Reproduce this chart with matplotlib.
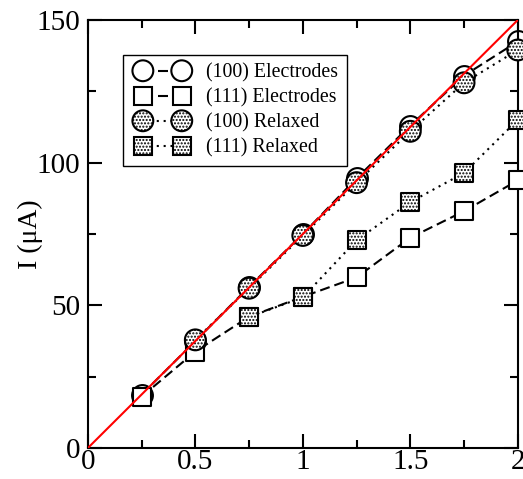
import numpy as np
import matplotlib
matplotlib.use('Agg')
import matplotlib.pyplot as plt
from matplotlib.lines import Line2D
from matplotlib.patches import Circle, Rectangle

plt.rcParams['font.family'] = ['Liberation Serif', 'DejaVu Serif']
plt.rcParams['hatch.linewidth'] = 1.0

# bias (V) and current (uA)
v_all = [0.25, 0.5, 0.75, 1.0, 1.25, 1.5, 1.75, 2.0]
i_e100 = [18.7, 37.5, 56.5, 75.0, 94.5, 113.0, 130.5, 142.5]
i_e111 = [18.0, 33.8, 46.0, 53.0, 59.8, 73.7, 83.0, 93.8]
v_r100 = [0.5, 0.75, 1.0, 1.25, 1.5, 1.75, 2.0]
i_r100 = [37.9, 56.0, 74.5, 93.0, 111.0, 128.0, 139.5]
v_r111 = [0.75, 1.0, 1.25, 1.5, 1.75, 2.0]
i_r111 = [45.9, 52.8, 72.8, 86.2, 96.4, 115.0]
v_lin = [0.0, 2.0]
i_lin = [0.0, 150.0]

labels = ['(100) Electrodes', '(111) Electrodes', '(100) Relaxed', '(111) Relaxed']

lw = 1.5
dash = (4.8, 2.4)
dot = (1, 2.3)
stip = '.....'
# marker sizes in points
ms_circ = 15
ms_sq = 13


class PairHandler:
    # legend entry drawn like xmgrace: symbol - line - symbol
    def __init__(self, marker, size, hatch, dashes):
        self.marker = marker
        self.size = size
        self.hatch = hatch
        self.dashes = dashes

    def legend_artist(self, legend, orig_handle, fontsize, handlebox):
        x1 = -handlebox.xdescent + 8.4
        x2 = x1 + 28
        y = (handlebox.height - handlebox.ydescent) / 2
        line = Line2D([x1, x2], [y, y], color='k', lw=lw, dashes=self.dashes)
        handlebox.add_artist(line)
        r = self.size / 2
        for x in (x1, x2):
            if self.marker == 'o':
                p = Circle((x, y), r, fc='white', ec='k', lw=lw, hatch=self.hatch)
            else:
                p = Rectangle((x - r, y - r), self.size, self.size, fc='white',
                              ec='k', lw=lw, hatch=self.hatch)
            handlebox.add_artist(p)
        return line


fig = plt.figure(figsize=(5.23, 4.79), dpi=100)
ax = fig.add_axes([0.168, 0.0647, 0.822, 0.8935])

sets = [
    (v_all, i_e100, dash, 'o', ms_circ, None),
    (v_all, i_e111, dash, 's', ms_sq, None),
    (v_r100, i_r100, dot, 'o', ms_circ, stip),
    (v_r111, i_r111, dot, 's', ms_sq, stip),
]
handles = []
hmap = {}
z = 2
for xs, ys, ls, mk, sz, hatch in sets:
    ln, = ax.plot(xs, ys, color='k', lw=lw, dashes=ls, zorder=z)
    ax.scatter(xs, ys, s=sz ** 2, marker=mk, facecolor='white', edgecolor='k',
               linewidths=lw, hatch=hatch, zorder=z + 0.5, clip_on=False)
    handles.append(ln)
    hmap[ln] = PairHandler(mk, sz, hatch, ls)
    z += 1

ax.plot(v_lin, i_lin, color='red', lw=1.5, zorder=10)

ax.set_xlim(0, 2)
ax.set_ylim(0, 150)
ax.set_xticks([0, 0.5, 1, 1.5, 2])
ax.set_xticklabels(['0', '0.5', '1', '1.5', '2'])
ax.set_yticks([0, 50, 100, 150])
ax.set_xticks(np.arange(0.25, 2, 0.5), minor=True)
ax.set_yticks([25, 75, 125], minor=True)
ax.tick_params(which='both', direction='in', top=True, right=True, width=1.5,
               labelsize=21)
ax.tick_params(which='major', length=10)
ax.tick_params(which='minor', length=6)
ax.tick_params(axis='x', pad=0.5)
ax.tick_params(axis='y', pad=5.5)
for sp in ax.spines.values():
    sp.set_linewidth(1.5)

ax.set_ylabel('I (μA)', fontsize=20)
ax.yaxis.set_label_coords(-0.105, 0.5)

leg = ax.legend(handles, labels, handler_map=hmap,
                loc='upper left', bbox_to_anchor=(0.0814, 0.918), borderaxespad=0,
                fontsize=14.3, handlelength=3.0, handletextpad=0.78,
                labelspacing=0.29, borderpad=0.42, fancybox=False,
                framealpha=1, edgecolor='k')
leg.get_frame().set_linewidth(1.0)

fig.savefig('out.png', dpi=100)
